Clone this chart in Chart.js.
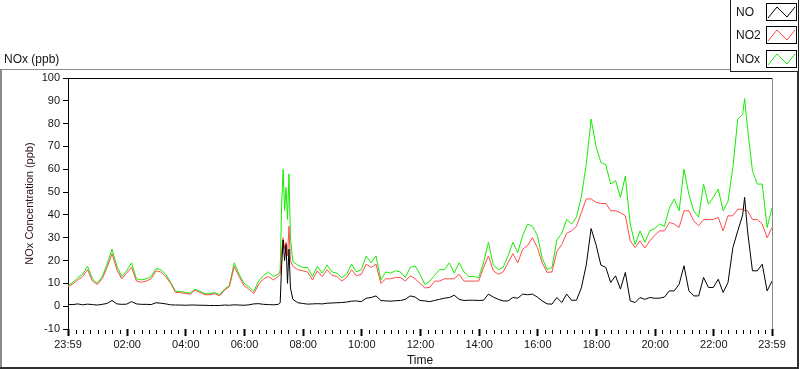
<!DOCTYPE html>
<html>
<head>
<meta charset="utf-8">
<script src="https://cdn.jsdelivr.net/npm/chart.js@4.4.0/dist/chart.umd.min.js"></script>
<style>
  html, body { margin: 0; padding: 0; background: #fff; }
  canvas { display: block; }
</style>
</head>
<body>
<canvas id="chart" width="800" height="369"></canvas>
<script>
// minutes after 23:59 (start of the record)
const times = [
  0,10,20,30,40,50,60,70,80,90,100,110,120,130,140,150,160,170,180,190,200,210,220,230,240,250,260,270,280,290,300,310,320,330,340,350,360,
  370,380,390,400,410,420,430,434,437,440,443,446,449,452,455,
  460,470,480,490,500,510,520,530,540,550,560,570,580,590,600,610,620,630,640,650,660,670,680,690,700,710,720,
  730,740,750,760,770,780,790,800,810,820,830,840,850,860,870,880,890,900,910,920,930,940,950,960,970,980,990,1000,1010,1020,1030,1040,1050,1060,1070,1080,
  1090,1100,1110,1120,1130,1140,1150,1160,1170,1180,1190,1200,1210,1220,1230,1240,1250,1260,1270,1280,1290,1300,1310,1320,1330,1340,1350,1360,1370,1380,1384,
  1390,1400,1410,1420,1430,1440
];

const no = [
  0.8,0.7,1,0.6,0.9,0.7,0.5,0.8,1.2,2.5,1,0.8,0.9,2,1,0.8,0.8,0.7,1.5,1.3,1,0.6,0.5,0.5,0.4,0.5,0.5,0.4,0.4,0.3,0.3,0.3,0.5,0.4,0.6,0.5,0.4,
  0.6,1,1.1,0.8,0.7,0.6,0.8,1.5,18,29,20,27,10,25,8,
  3,1.5,1.2,0.9,1,1.1,1,1.3,1.4,1.5,1.6,1.8,2.2,2.3,2,3.5,3.8,4.5,2.5,2.3,2.2,2.4,2.5,3,4.5,4,2.5,
  2.3,2,2.5,3,3.5,3.8,4.8,3,2.5,2.6,2.6,2.5,2.6,5.3,4,3,2.3,2.3,3.8,3.5,5.3,5,5.3,4,2.3,1,0.9,3.8,1.6,5.3,2.6,2.6,8,18,34,27,
  18,17,10.4,13.3,7.5,14.8,2.3,1.6,3.8,3,3.8,3.5,3.5,4,6.7,6.7,9.6,17.7,6.7,4.5,4.5,12.6,8.2,8.2,11.8,6,10.4,25.7,33,40,47.7,
  33,15.5,15.5,18.4,6.7,11
];

const no2 = [
  8.5,9.8,11.5,13,16,11,9.5,12,17,23,16,12,14.5,17,11,10.5,11,12,15.5,15,13,10,6,6,5.5,5.3,7,6,5,5,5.5,4.5,7,8.5,17.5,13,9,
  7.5,5.5,9.6,12,13,11.5,13,14,24,30,25,28,22,35,20,
  17.5,16,15.5,15,11.5,15.5,13,16,13.5,13,11,12.6,16,13.3,14,18.4,17,18.4,10,12,12,12.6,12.6,11,13.3,12,10,
  8,8.2,11,11,12,12,12,14,11,11,11,11,17,22,15.5,14,15,19,23,19,25,26.5,30,25.7,19,14.8,15,24,27,32,33,35,41,47,47,45.5,
  45,45,41.8,41.8,41,39.6,28.6,25.7,28.6,25.5,28.6,31,33,33,36.7,36,34.5,41.8,41.8,37.4,35.2,38,38,38,38.9,33,39.6,39.6,42.5,42.5,42,
  41.8,38,38,36,30,34.5
];

const nox = [
  9,10.5,12.5,14,17.5,12,10,13,18.5,25,17.5,13,15.5,19,12,11.5,12,13,16.5,16,14,10.5,6.5,6.5,6,5.8,7.5,6.5,5.5,5.5,6,5,7.5,9,19,14,10,
  8.5,6.5,11,13.5,15,13,14,15.5,45,60,42,52,38,58,30,
  19.5,18,17,17,13,17.5,14.5,18,15,14.5,12.5,14,18.4,15,16,22,19,22,11.5,15,14.5,15.5,15,12.6,17,17.7,14,
  9.5,11,13.5,16,16,19,14.5,19,15,13,13,12.5,19,28,18,16,17,22,28,23.5,31,36,35,31,21,16,17,29,32,38,36,39,48,62,82,70,
  63,62,53.5,55,47.7,57,36,27,33,28,33,34,36,35,43,47,41.8,60,49,41.8,39,53.5,44.7,47.7,51.3,41.8,46,60.8,82,84,91,
  78,59.4,53.5,53.5,34.5,43
];

const seriesNames = ['NO', 'NO2', 'NOx'];
const seriesColors = ['#000000', '#ff4a4a', '#16ec00'];

const xTickValues = [0,121,241,361,481,601,721,841,961,1081,1201,1321,1440];
const xTickLabels = ['23:59','02:00','04:00','06:00','08:00','10:00','12:00','14:00','16:00','18:00','20:00','22:00','23:59'];

const FONT = '"Liberation Sans", Arial, sans-serif';
const TXT = '#141414';

function pts(vals){
  return times.map((t, i) => ({x: t, y: vals[i]}));
}

// caption, frames, minor ticks and the legend box
const decorations = {
  id: 'decorations',
  afterDraw(chart){
    const ctx = chart.ctx;
    const a = chart.chartArea;
    const xs = chart.scales.x;
    ctx.save();

    // outer panel
    ctx.fillStyle = '#8c8c8c';
    ctx.fillRect(0, 69, 730, 1);
    ctx.fillRect(0, 69, 2, 299);
    ctx.fillStyle = '#303030';
    ctx.fillRect(0, 367, 799, 2);
    ctx.fillRect(797, 72, 2, 297);

    // plot frame
    ctx.fillStyle = '#000';
    ctx.fillRect(a.left, a.top, a.right - a.left, 1);
    ctx.fillStyle = '#8c8c8c';
    ctx.fillRect(a.right, a.top, 1, a.bottom - a.top);

    // minor ticks every 15 min
    ctx.fillStyle = '#000';
    for (let t = 16; t < 1440; t += 15) {
      if ((t - 1) % 120 === 0) continue;
      const px = Math.round(xs.getPixelForValue(t));
      ctx.fillRect(px, a.bottom + 1, 1, 4);
    }

    // caption
    ctx.fillStyle = TXT;
    ctx.font = '12px ' + FONT;
    ctx.textBaseline = 'middle';
    ctx.textAlign = 'left';
    ctx.fillText('NOx (ppb)', 4, 60);

    // legend
    ctx.fillStyle = '#fff';
    ctx.fillRect(730, 0, 69, 72);
    ctx.fillStyle = '#202020';
    ctx.fillRect(730, 0, 1, 72);
    ctx.fillRect(730, 71, 69, 1);
    ctx.fillRect(798, 0, 1, 72);
    chart.data.datasets.forEach((ds, i) => {
      const top = Math.round(3 + i * 23.4);
      ctx.fillStyle = TXT;
      ctx.font = '12px ' + FONT;
      ctx.fillText(ds.label, 736, top + 9.5);
      ctx.strokeStyle = '#000';
      ctx.lineWidth = 1;
      ctx.strokeRect(766.5, top + 0.5, 30, 17);
      ctx.strokeStyle = ds.borderColor;
      ctx.beginPath();
      ctx.moveTo(768, top + 15);
      ctx.lineTo(777, top + 4);
      ctx.lineTo(787, top + 14);
      ctx.lineTo(795, top + 4);
      ctx.stroke();
    });

    ctx.restore();
  }
};

const chart = new Chart(document.getElementById('chart').getContext('2d'), {
  type: 'line',
  data: {
    datasets: [
      { label: seriesNames[0], data: pts(no),  borderColor: seriesColors[0] },
      { label: seriesNames[1], data: pts(no2), borderColor: seriesColors[1] },
      { label: seriesNames[2], data: pts(nox), borderColor: seriesColors[2] }
    ]
  },
  options: {
    responsive: false,
    animation: false,
    devicePixelRatio: 1,
    layout: { padding: { left: 0, right: 28, top: 78, bottom: 0 } },
    elements: {
      line: { borderWidth: 1, tension: 0, fill: false },
      point: { radius: 0 }
    },
    plugins: {
      legend: { display: false },
      tooltip: { enabled: false }
    },
    scales: {
      x: {
        type: 'linear',
        min: 0,
        max: 1440,
        afterBuildTicks: s => { s.ticks = xTickValues.map(v => ({ value: v })); },
        afterFit: s => { s.height = 40; },
        ticks: {
          autoSkip: false,
          maxRotation: 0,
          padding: 2,
          color: TXT,
          font: { family: FONT, size: 11 },
          callback: (v, i) => xTickLabels[i]
        },
        grid: { drawOnChartArea: false, drawTicks: true, tickLength: 7, tickColor: '#000', tickWidth: 2 },
        border: { display: false },
        title: {
          display: true, text: 'Time', color: TXT,
          font: { family: FONT, size: 12 },
          padding: { top: 0, bottom: 1 }
        }
      },
      y: {
        min: -10,
        max: 100,
        afterFit: s => { s.width = 68; },
        ticks: {
          stepSize: 10,
          padding: 3,
          color: TXT,
          font: { family: FONT, size: 11 }
        },
        grid: { drawOnChartArea: false, drawTicks: true, tickLength: 5, tickColor: '#000' },
        border: { display: true, color: '#000', width: 1 },
        title: {
          display: true, text: 'NOx Concentration (ppb)', color: '#2a1020',
          font: { family: FONT, size: 11 },
          padding: { top: 23, bottom: 0 }
        }
      }
    }
  },
  plugins: [decorations]
});
</script>
</body>
</html>
